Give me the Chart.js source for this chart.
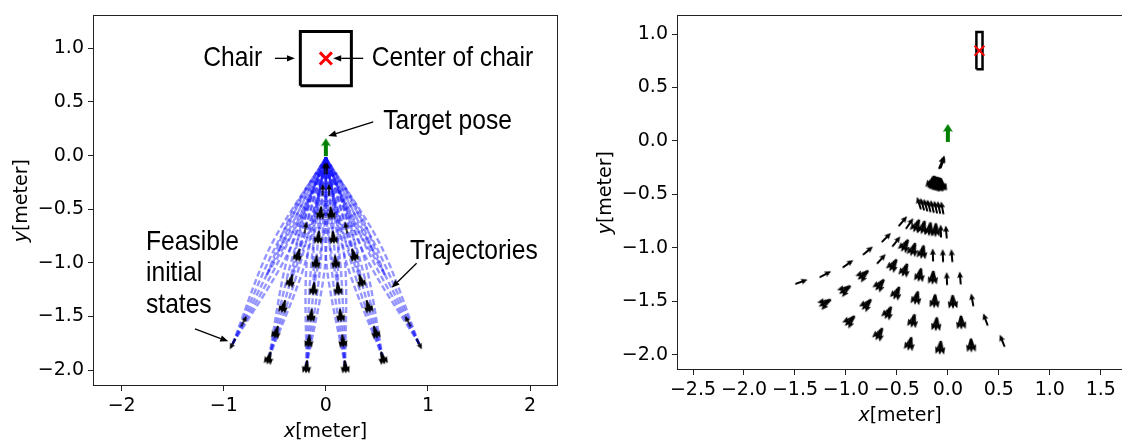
<!DOCTYPE html>
<html><head><meta charset="utf-8">
<script src="https://cdn.jsdelivr.net/npm/chart.js@4.4.1/dist/chart.umd.min.js"></script>
<style>
html,body{margin:0;padding:0;background:#fff;overflow:hidden;width:1122px;height:441px;}
#wl{position:absolute;left:0;top:0;width:570px;height:441px;}
#wr{position:absolute;left:565px;top:0;width:570px;height:441px;}
</style></head><body>
<div id="wl"><canvas id="cl" width="570" height="441"></canvas></div>
<div id="wr"><canvas id="cr" width="570" height="441"></canvas></div>
<script>
// ---------------- data: left panel ----------------
const leftXTicks = [-2, -1, 0, 1, 2];
const leftYTicks = [-2.0, -1.5, -1.0, -0.5, 0.0, 0.5, 1.0];
const leftChairX = [-0.25, 0.25, 0.25, -0.25, -0.25];
const leftChairY = [0.65, 0.65, 1.155, 1.155, 0.65];
const leftChairCenter = {x: 0.0, y: 0.905};
const leftTargetPose = {x: 0.0, y: 0.078, heading: 90};
// feasible initial states (position + heading in degrees) ; k: s = single heading, f = several headings
const leftInitX = [-0.914,-0.803,-0.559,-0.488,-0.417,-0.346,-0.275,-0.199,-0.190,-0.167,-0.144,-0.120,-0.096,-0.074,-0.052,-0.031,-0.011,
                    0.914, 0.803, 0.559, 0.488, 0.417, 0.346, 0.275, 0.199, 0.190, 0.167, 0.144, 0.120, 0.096, 0.074, 0.052, 0.031, 0.011];
const leftInitY = [-1.756,-1.543,-1.889,-1.649,-1.409,-1.170,-0.930,-0.671,-1.971,-1.732,-1.493,-1.244,-0.995,-0.766,-0.538,-0.319,-0.119,
                   -1.756,-1.543,-1.889,-1.649,-1.409,-1.170,-0.930,-0.671,-1.971,-1.732,-1.493,-1.244,-0.995,-0.766,-0.538,-0.319,-0.119];
const leftInitHeading = [242.5,62.5,253.5,253.5,253.5,253.5,253.5,80,264.5,264.5,264.5,264.5,264.5,264.5,264.5,90,90,
                         297.5,117.5,286.5,286.5,286.5,286.5,286.5,100,275.5,275.5,275.5,275.5,275.5,275.5,275.5,90,90];
const leftInitKind = ['s','s','f','f','f','f','f','s','f','f','f','f','f','f','f','s','s',
                      's','s','f','f','f','f','f','s','f','f','f','f','f','f','f','s','s'];
// trajectories: start (initial state), middle, end (target)
const leftTrajX = [
  [-0.914,-0.542,0],[-0.914,-0.502,0],[-0.914,-0.462,0],[-0.914,-0.422,0],[-0.914,-0.382,0],
  [-0.559,-0.370,0],[-0.559,-0.327,0],[-0.559,-0.284,0],[-0.559,-0.241,0],[-0.559,-0.198,0],
  [-0.190,-0.186,0],[-0.190,-0.141,0],[-0.190,-0.096,0],[-0.190,-0.051,0],[-0.190,-0.006,0],
  [-0.577,-0.242,0],[-0.577,-0.330,0],[-0.355,-0.128,0],[-0.355,-0.224,0],[-0.120,-0.009,0],[-0.120,-0.109,0],
  [-0.462,-0.204,0],[-0.462,-0.258,0],[-0.275,-0.107,0],[-0.275,-0.165,0],[-0.074,-0.006,0],[-0.074,-0.066,0],
  [-0.300,-0.150,0],[-0.199,-0.100,0],[-0.052,-0.026,0],
  [0.914,0.542,0],[0.914,0.502,0],[0.914,0.462,0],[0.914,0.422,0],[0.914,0.382,0],
  [0.559,0.370,0],[0.559,0.327,0],[0.559,0.284,0],[0.559,0.241,0],[0.559,0.198,0],
  [0.190,0.186,0],[0.190,0.141,0],[0.190,0.096,0],[0.190,0.051,0],[0.190,0.006,0],
  [0.577,0.242,0],[0.577,0.330,0],[0.355,0.128,0],[0.355,0.224,0],[0.120,0.009,0],[0.120,0.109,0],
  [0.462,0.204,0],[0.462,0.258,0],[0.275,0.107,0],[0.275,0.165,0],[0.074,0.006,0],[0.074,0.066,0],
  [0.300,0.150,0],[0.199,0.100,0],[0.052,0.026,0]];
const leftTrajY = [
  [-1.756,-0.845,-0.02],[-1.756,-0.866,-0.02],[-1.756,-0.887,-0.02],[-1.756,-0.908,-0.02],[-1.756,-0.929,-0.02],
  [-1.889,-0.933,-0.02],[-1.889,-0.946,-0.02],[-1.889,-0.959,-0.02],[-1.889,-0.972,-0.02],[-1.889,-0.985,-0.02],
  [-1.971,-0.986,-0.02],[-1.971,-0.991,-0.02],[-1.971,-0.995,-0.02],[-1.971,-0.999,-0.02],[-1.971,-1.004,-0.02],
  [-1.109,-0.573,-0.02],[-1.109,-0.527,-0.02],[-1.199,-0.608,-0.02],[-1.199,-0.580,-0.02],[-1.244,-0.622,-0.02],[-1.244,-0.612,-0.02],
  [-0.887,-0.458,-0.02],[-0.887,-0.430,-0.02],[-0.930,-0.469,-0.02],[-0.930,-0.451,-0.02],[-0.766,-0.381,-0.02],[-0.766,-0.375,-0.02],
  [-0.580,-0.290,-0.02],[-0.671,-0.336,-0.02],[-0.538,-0.270,-0.02],
  [-1.756,-0.845,-0.02],[-1.756,-0.866,-0.02],[-1.756,-0.887,-0.02],[-1.756,-0.908,-0.02],[-1.756,-0.929,-0.02],
  [-1.889,-0.933,-0.02],[-1.889,-0.946,-0.02],[-1.889,-0.959,-0.02],[-1.889,-0.972,-0.02],[-1.889,-0.985,-0.02],
  [-1.971,-0.986,-0.02],[-1.971,-0.991,-0.02],[-1.971,-0.995,-0.02],[-1.971,-0.999,-0.02],[-1.971,-1.004,-0.02],
  [-1.109,-0.573,-0.02],[-1.109,-0.527,-0.02],[-1.199,-0.608,-0.02],[-1.199,-0.580,-0.02],[-1.244,-0.622,-0.02],[-1.244,-0.612,-0.02],
  [-0.887,-0.458,-0.02],[-0.887,-0.430,-0.02],[-0.930,-0.469,-0.02],[-0.930,-0.451,-0.02],[-0.766,-0.381,-0.02],[-0.766,-0.375,-0.02],
  [-0.580,-0.290,-0.02],[-0.671,-0.336,-0.02],[-0.538,-0.270,-0.02]];
// annotations
const leftNoteText = ['Chair', 'Center of chair', 'Target pose', 'Trajectories', 'Feasible', 'initial', 'states'];
const leftNoteX = [-1.201, 0.449, 0.562, 0.824, -1.762, -1.762, -1.762];
const leftNoteY = [0.914, 0.914, 0.33, -0.887, -0.803, -1.088, -1.39];
const leftPointerFrom = [[-0.499,0.906],[0.366,0.906],[0.464,0.314],[0.889,-1.003],[-1.282,-1.614]];
const leftPointerTo   = [[-0.303,0.906],[0.072,0.906],[0.024,0.182],[0.644,-1.232],[-0.956,-1.731]];

// ---------------- data: right panel ----------------
const rightXTicks = [-2.5,-2.0,-1.5,-1.0,-0.5,0.0,0.5,1.0,1.5];
const rightYTicks = [-2.0,-1.5,-1.0,-0.5,0.0,0.5,1.0];
const rightChairX = [0.28, 0.34, 0.34, 0.28, 0.28];
const rightChairY = [0.67, 0.67, 1.02, 1.02, 0.67];
const rightChairCenter = {x: 0.31, y: 0.845};
const rightTargetPose = {x: 0.0, y: 0.075, heading: 90};
const rightInitX = [
  -1.436,-1.208,-0.963,-0.676,-0.375,-0.075,0.229,0.533,
  -1.201,-1.012,-0.799,-0.588,-0.343,-0.114,0.131,0.369,
  -0.979,-0.833,-0.669,-0.505,-0.310,-0.130,0.049,0.239,
  -0.784,-0.652,-0.539,-0.424,-0.277,-0.147,-0.010,0.121,
  -0.603,-0.505,-0.424,-0.343,-0.251,-0.147,-0.049,0.039,
  -0.441,-0.375,-0.310,-0.245,-0.179,-0.120,-0.069,-0.016,
  -0.284,-0.251,-0.218,-0.186,-0.153,-0.120,-0.088,-0.055,
  -0.160,-0.145,-0.130,-0.115,-0.100,-0.085,-0.070,-0.060,
  -0.062,-0.057,-0.052];
const rightInitY = [
  -1.318,-1.518,-1.686,-1.809,-1.901,-1.938,-1.916,-1.870,
  -1.248,-1.395,-1.533,-1.610,-1.686,-1.717,-1.702,-1.671,
  -1.150,-1.257,-1.349,-1.426,-1.472,-1.502,-1.509,-1.487,
  -1.027,-1.104,-1.165,-1.211,-1.257,-1.282,-1.288,-1.282,
  -0.904,-0.941,-0.981,-1.018,-1.042,-1.067,-1.073,-1.073,
  -0.751,-0.773,-0.797,-0.812,-0.828,-0.837,-0.843,-0.852,
  -0.582,-0.592,-0.601,-0.607,-0.613,-0.619,-0.622,-0.626,
  -0.390,-0.395,-0.400,-0.403,-0.406,-0.410,-0.412,-0.414,
  -0.205,-0.200,-0.195];
const rightInitHeading = [
  20,210,225,240,255,265,272,112,
  28,215,228,242,255,265,272,110,
  35,220,232,245,256,265,272,100,
  40,48,238,248,258,266,92,95,
  45,52,240,250,258,92,92,95,
  50,55,245,255,262,268,92,95,
  108,107,106,105,104,103,102,101,
  250,255,260,265,268,272,276,280,
  66,70,74];
const rightInitKind = [
  's','f','f','f','f','f','f','s',
  's','f','f','f','f','f','f','s',
  's','f','f','f','f','f','f','s',
  's','s','f','f','f','f','s','s',
  's','s','f','f','f','s','s','s',
  's','s','f','f','f','f','s','s',
  's','s','s','s','s','s','s','s',
  'f','f','f','f','f','f','f','f',
  's','s','s'];

// ---------------- glyphs ----------------
function arrowPath(g, L, sw, hl, hw, hal) {
  g.beginPath();
  g.moveTo(0, -sw/2); g.lineTo(L-hal, -sw/2); g.lineTo(L-hl, -hw/2); g.lineTo(L, 0);
  g.lineTo(L-hl, hw/2); g.lineTo(L-hal, sw/2); g.lineTo(0, sw/2); g.closePath(); g.fill();
}
function makeGlyph(L, sw, hl, hw, hal, spreads, color) {
  const S = 2*Math.ceil(L + 4);
  const c = document.createElement('canvas'); c.width = S; c.height = S;
  const g = c.getContext('2d'); g.fillStyle = color;
  for (const sp of spreads) {
    g.save(); g.translate(S/2 - L/2, S/2); g.rotate(sp*Math.PI/180); arrowPath(g, L, sw, hl, hw, hal); g.restore();
  }
  return c;
}
const gLeftSingle = makeGlyph(12, 1.7, 6, 5.5, 5.4, [0], '#000');
const gLeftFan = makeGlyph(13, 1.8, 6.5, 6, 5.8, [-14, 0, 14], '#000');
const gRightSingle = makeGlyph(13, 1.9, 6.5, 5.8, 5.8, [0], '#000');
const gRightFan = makeGlyph(14, 2, 7, 6.2, 6.3, [-18, 0, 18], '#000');
const gTarget = makeGlyph(18, 4, 8, 10, 7, [0], '#008000');

// ---------------- helpers ----------------
const minus = v => (v < 0 ? '\u2212' : '');
const fmt1 = v => minus(v) + Math.abs(v).toFixed(1);
const fmt0 = v => minus(v) + Math.abs(v).toFixed(0);
const TICK_FONT = {family: 'DejaVu Sans', size: 19};

function axis(min, max, tickVals, fmt, fitKey, fitVal) {
  return {
    type: 'linear', min, max,
    afterBuildTicks: s => { s.ticks = tickVals.map(v => ({value: v})); },
    afterFit: s => { s[fitKey] = fitVal; },
    ticks: {callback: v => fmt(v), font: TICK_FONT, color: '#000', padding: 4, maxRotation: 0, autoSkip: false},
    grid: {drawOnChartArea: false, drawTicks: true, tickLength: 5, tickWidth: 1, tickColor: '#222'},
    border: {display: false}
  };
}

function drawTitle(ctx, cx, cy, rot) {
  const f1 = 'italic 19px "DejaVu Sans"', f2 = '19px "DejaVu Sans"';
  const base = rot ? 'y' : 'x', rest = '[meter]';
  ctx.save(); ctx.translate(cx, cy); if (rot) ctx.rotate(-Math.PI/2);
  ctx.font = f1; const w1 = ctx.measureText(base).width;
  ctx.font = f2; const w2 = ctx.measureText(rest).width;
  const x0 = -(w1 + w2)/2;
  ctx.fillStyle = '#000'; ctx.textBaseline = 'middle'; ctx.textAlign = 'left';
  ctx.font = f1; ctx.fillText(base, x0, 0);
  ctx.font = f2; ctx.fillText(rest, x0 + w1, 0);
  ctx.restore();
}

const decor = {
  id: 'decor',
  afterDraw(chart) {
    const o = chart.options.plugins.decor || {};
    const {ctx, chartArea: a} = chart;
    const sx = chart.scales.x, sy = chart.scales.y;
    ctx.save();
    ctx.strokeStyle = '#222'; ctx.lineWidth = 1;
    ctx.strokeRect(Math.round(a.left) + 0.5, Math.round(a.top) + 0.5,
                   Math.round(a.right - a.left) - 1, Math.round(a.bottom - a.top) - 1);
    drawTitle(ctx, (a.left + a.right)/2, a.bottom + o.xTitleGap, false);
    drawTitle(ctx, a.left - o.yTitleGap, (a.top + a.bottom)/2, true);
    if (o.notes) {
      ctx.fillStyle = '#000'; ctx.textBaseline = 'middle'; ctx.textAlign = 'left';
      ctx.font = '25px "Liberation Sans", Arial, sans-serif';
      o.notes.text.forEach((t, i) => {
        const px = sx.getPixelForValue(o.notes.x[i]), py = sy.getPixelForValue(o.notes.y[i]);
        ctx.save(); ctx.translate(px, py); ctx.scale(0.985, 1.07); ctx.fillText(t, 0, 1); ctx.restore();
      });
      ctx.strokeStyle = '#000'; ctx.lineWidth = 1.3;
      o.notes.from.forEach((f, i) => {
        const t = o.notes.to[i];
        const x0 = sx.getPixelForValue(f[0]), y0 = sy.getPixelForValue(f[1]);
        const x1 = sx.getPixelForValue(t[0]), y1 = sy.getPixelForValue(t[1]);
        const ang = Math.atan2(y1 - y0, x1 - x0), hl = 8, hw = 3.2;
        const bx = x1 - hl*Math.cos(ang), by = y1 - hl*Math.sin(ang);
        ctx.beginPath(); ctx.moveTo(x0, y0); ctx.lineTo(bx, by); ctx.stroke();
        ctx.beginPath(); ctx.moveTo(x1, y1);
        ctx.lineTo(bx + hw*Math.sin(ang), by - hw*Math.cos(ang));
        ctx.lineTo(bx - hw*Math.sin(ang), by + hw*Math.cos(ang));
        ctx.closePath(); ctx.fill();
      });
    }
    ctx.restore();
  }
};

function quiverDataset(X, Y, H, K, gS, gF, order) {
  return {
    data: X.map((x, i) => ({x, y: Y[i]})), showLine: false, order,
    pointStyle: c => (K[c.dataIndex] === 'f' ? gF : gS),
    pointRotation: c => -H[c.dataIndex],
    pointRadius: 2, pointHoverRadius: 2
  };
}
function boxDataset(X, Y, w) {
  return {data: X.map((x, i) => ({x, y: Y[i]})), showLine: true, borderColor: '#000', borderWidth: w,
          pointRadius: 0, tension: 0, order: 3, borderJoinStyle: 'miter'};
}
function crossDataset(p, r, w) {
  return {data: [{x: p.x, y: p.y}], showLine: false, pointStyle: 'crossRot', pointRadius: r,
          pointBorderColor: '#ff0000', pointBorderWidth: w, order: 1};
}
function targetDataset(p) {
  return {data: [{x: p.x, y: p.y}], showLine: false, pointStyle: gTarget, pointRotation: -p.heading,
          pointRadius: 2, order: 0};
}

const common = {
  responsive: false, animation: false, events: [],
  plugins: {legend: {display: false}, tooltip: {enabled: false}}
};

// ---------------- left chart ----------------
const leftDatasets = [];
leftTrajX.forEach((tx, i) => {
  leftDatasets.push({
    data: tx.map((x, j) => ({x, y: leftTrajY[i][j]})), showLine: true,
    borderColor: 'rgba(20,20,255,0.45)', borderWidth: 2.4, borderDash: [6, 3],
    pointRadius: 0, tension: 0.3, order: 5
  });
});
leftDatasets.push(quiverDataset(leftInitX, leftInitY, leftInitHeading, leftInitKind, gLeftSingle, gLeftFan, 2));
leftDatasets.push(boxDataset(leftChairX, leftChairY, 3));
leftDatasets.push(crossDataset(leftChairCenter, 8.5, 3));
leftDatasets.push(targetDataset(leftTargetPose));

new Chart(document.getElementById('cl'), {
  type: 'scatter',
  data: {datasets: leftDatasets},
  options: Object.assign({}, common, {
    layout: {padding: {left: 0, right: 12, top: 10, bottom: 0}},
    scales: {
      x: axis(-2.281, 2.274, leftXTicks, fmt0, 'height', 55),
      y: axis(-2.147, 1.306, leftYTicks, fmt1, 'width', 93)
    },
    plugins: Object.assign({}, common.plugins, {
      decor: {xTitleGap: 46, yTitleGap: 71,
        notes: {text: leftNoteText, x: leftNoteX, y: leftNoteY, from: leftPointerFrom, to: leftPointerTo}}
    })
  }),
  plugins: [decor]
});

// ---------------- right chart ----------------
const rightDatasets = [];
rightDatasets.push(quiverDataset(rightInitX, rightInitY, rightInitHeading, rightInitKind, gRightSingle, gRightFan, 2));
rightDatasets.push(crossDataset(rightChairCenter, 7, 2));
rightDatasets.push(boxDataset(rightChairX, rightChairY, 2.5));
rightDatasets.push(targetDataset(rightTargetPose));

new Chart(document.getElementById('cr'), {
  type: 'scatter',
  data: {datasets: rightDatasets},
  options: Object.assign({}, common, {
    layout: {padding: {left: 0, right: 12, top: 9, bottom: 0}},
    scales: {
      x: axis(-2.657, 1.718, rightXTicks, fmt1, 'height', 71),
      y: axis(-2.144, 1.175, rightYTicks, fmt1, 'width', 112)
    },
    plugins: Object.assign({}, common.plugins, {
      decor: {xTitleGap: 46, yTitleGap: 71}
    })
  }),
  plugins: [decor]
});
</script>
</body></html>
